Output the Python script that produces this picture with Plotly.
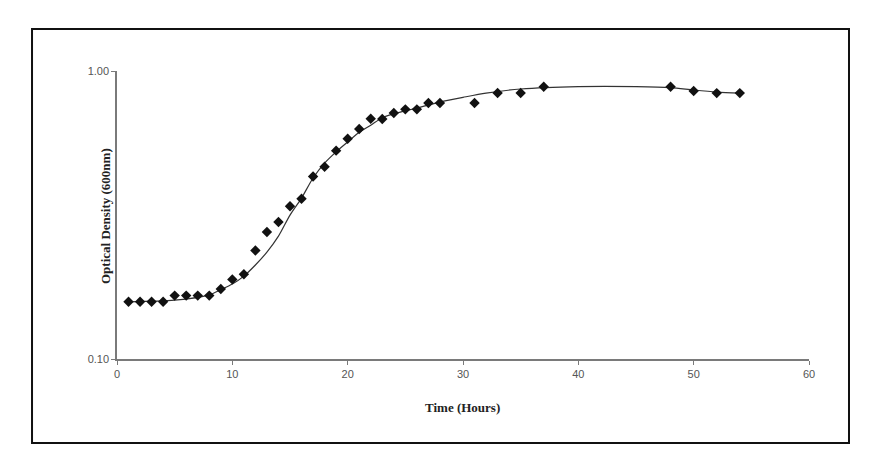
import plotly.graph_objects as go

# Measured data (time in hours, optical density at 600 nm)
time_obs = [1, 2, 3, 4, 5, 6, 7, 8, 9, 10, 11, 12, 13, 14, 15, 16, 17, 18, 19, 20,
            21, 22, 23, 24, 25, 26, 27, 28, 31, 33, 35, 37, 48, 50, 52, 54]
od_obs = [0.158, 0.158, 0.158, 0.158, 0.166, 0.166, 0.166, 0.166, 0.175, 0.189, 0.197,
          0.238, 0.276, 0.299, 0.339, 0.360, 0.430, 0.465, 0.529, 0.582,
          0.629, 0.683, 0.681, 0.715, 0.736, 0.736, 0.774, 0.774, 0.774, 0.839, 0.839, 0.882,
          0.882, 0.852, 0.838, 0.838]

# Fitted growth curve
time_fit = [1, 5, 8, 9, 10, 11, 12, 13, 14, 15, 16, 17, 18, 19, 20, 21, 22, 23, 24,
            26, 28, 30, 32, 35, 40, 45, 48, 50, 52, 54]
od_fit = [0.158, 0.160, 0.167, 0.174, 0.182, 0.194, 0.212, 0.235, 0.267, 0.316, 0.362,
          0.425, 0.479, 0.524, 0.567, 0.613, 0.648, 0.688, 0.710, 0.744, 0.780, 0.810,
          0.838, 0.866, 0.883, 0.883, 0.876, 0.859, 0.845, 0.838]

x_ticks = [0, 10, 20, 30, 40, 50, 60]
y_ticks = [0.1, 1.0]
y_tick_text = ["0.10", "1.00"]

fig = go.Figure()
fig.add_trace(go.Scatter(x=time_fit, y=od_fit, mode="lines",
                         line=dict(color="#333333", width=1.2, shape="spline", smoothing=0.8),
                         showlegend=False, hoverinfo="skip"))
fig.add_trace(go.Scatter(x=time_obs, y=od_obs, mode="markers",
                         marker=dict(symbol="diamond", size=8, color="#111111"),
                         showlegend=False))

axis_color = "#7a7a7a"
fig.update_xaxes(range=[0, 60], tickvals=x_ticks, showline=True, linecolor=axis_color,
                 linewidth=1.5, ticks="outside", ticklen=4, tickcolor=axis_color,
                 showgrid=False, zeroline=False,
                 tickfont=dict(family="Liberation Sans, Arial", size=11, color="#555555"))
fig.update_yaxes(type="log", range=[-1, 0], tickvals=y_ticks, ticktext=y_tick_text,
                 showline=True, linecolor=axis_color, linewidth=1.5, ticks="outside",
                 ticklen=4, tickcolor=axis_color, showgrid=False, zeroline=False,
                 tickfont=dict(family="Liberation Sans, Arial", size=11, color="#555555"))

fig.add_annotation(text="<b>Optical Density (600nm)</b>", xref="paper", yref="paper",
                   x=-0.0173, y=0.4965, textangle=-90, showarrow=False,
                   xanchor="center", yanchor="middle",
                   font=dict(family="Liberation Serif, Times New Roman", size=13, color="#222222"))
fig.add_annotation(text="<b>Time (Hours)</b>", xref="paper", yref="paper",
                   x=0.4986, y=-0.1667, showarrow=False, xanchor="center", yanchor="middle",
                   font=dict(family="Liberation Serif, Times New Roman", size=13, color="#222222"))

# outer frame
fig.add_shape(type="rect", xref="paper", yref="paper",
              x0=-0.1228, x1=1.0578, y0=-0.2917, y1=1.1458,
              line=dict(color="#111111", width=2), fillcolor="rgba(0,0,0,0)")

fig.update_layout(width=876, height=466, plot_bgcolor="white", paper_bgcolor="white",
                  margin=dict(l=117, r=67, t=71, b=107))

fig.write_html("out.html")
